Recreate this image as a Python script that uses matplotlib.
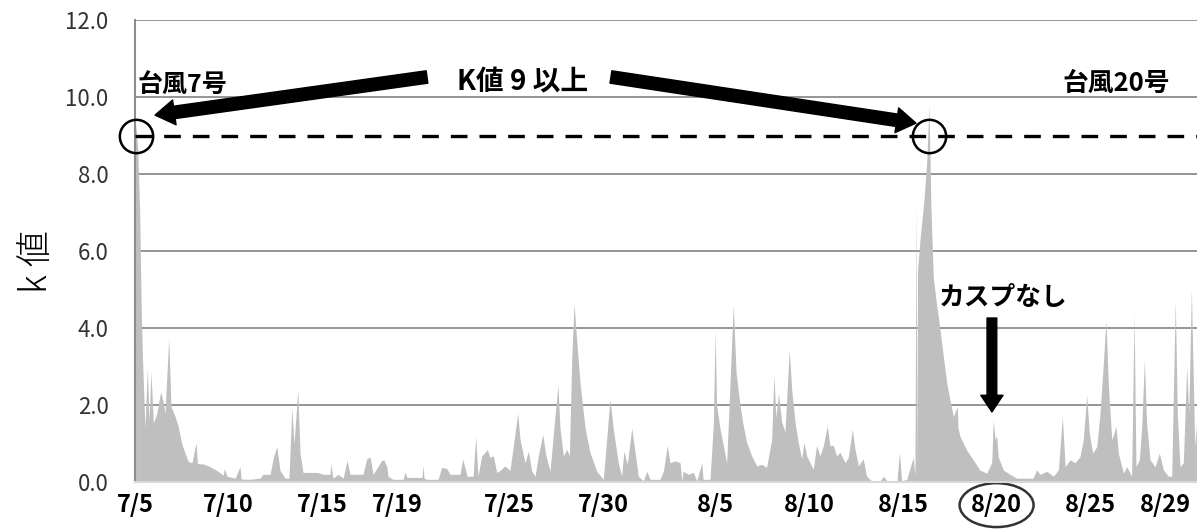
import matplotlib
matplotlib.use("Agg")
import matplotlib.pyplot as plt
from matplotlib.patches import Ellipse
from matplotlib.ticker import FormatStrFormatter

plt.rcParams["font.family"] = ["Noto Sans CJK JP", "DejaVu Sans"]

# k-index samples, (days since 7/5 00:00, k value)
july = [
    (0.00, 8.8), (0.05, 9.3), (0.15, 8.6), (0.25, 7.0), (0.33, 4.5), (0.40, 3.2),
    (0.53, 1.4), (0.66, 2.96), (0.75, 1.6), (0.85, 2.87), (0.98, 1.53), (1.16, 1.79),
    (1.37, 2.35), (1.51, 2.05), (1.60, 1.79), (1.80, 3.73), (1.92, 1.96), (2.14, 1.7),
    (2.31, 1.44), (2.49, 1.0), (2.67, 0.75), (2.85, 0.53), (3.04, 0.5), (3.26, 1.02),
    (3.33, 0.48), (3.65, 0.47), (4.00, 0.4), (4.36, 0.3), (4.71, 0.18), (4.77, 0.35),
    (4.91, 0.15), (5.34, 0.1), (5.61, 0.4), (5.66, 0.08), (6.14, 0.07), (6.67, 0.1),
    (6.83, 0.2), (7.21, 0.2), (7.38, 0.62), (7.57, 0.92), (7.74, 0.3), (8.01, 0.1),
    (8.22, 0.1), (8.37, 1.92), (8.49, 1.0), (8.69, 2.39), (8.81, 0.75), (8.97, 0.25),
    (9.72, 0.25), (10.04, 0.2), (10.41, 0.2), (10.45, 0.48), (10.57, 0.1), (10.84, 0.2),
    (11.11, 0.1), (11.32, 0.56), (11.48, 0.2), (12.17, 0.2), (12.37, 0.6), (12.55, 0.65),
    (12.71, 0.2), (13.17, 0.56), (13.29, 0.57), (13.44, 0.4), (13.51, 0.15), (13.77, 0.07),
    (14.31, 0.07), (14.42, 0.25), (14.52, 0.12), (15.32, 0.12), (15.38, 0.42), (15.43, 0.1),
    (15.59, 0.07), (16.18, 0.07), (16.37, 0.38), (16.64, 0.35), (16.82, 0.2), (17.35, 0.2),
    (17.50, 0.6), (17.73, 0.15), (18.05, 0.15), (18.19, 1.18), (18.31, 0.15), (18.51, 0.68),
    (18.69, 0.77), (18.81, 0.85), (18.95, 0.64), (19.13, 0.68), (19.31, 0.25), (19.49, 0.3),
    (19.75, 0.42), (20.02, 0.3), (20.20, 0.95), (20.43, 1.78), (20.56, 1.1), (20.82, 0.5),
    (21.00, 0.8), (21.18, 0.28), (21.36, 0.15), (21.53, 0.68), (21.77, 1.23), (21.94, 0.68),
    (22.16, 0.28), (22.33, 1.23), (22.58, 2.52), (22.69, 1.4), (22.87, 0.68), (23.05, 0.85),
    (23.19, 0.68), (23.32, 3.25), (23.44, 4.64), (23.58, 3.69), (23.76, 2.56), (24.03, 1.4),
    (24.29, 0.77), (24.65, 0.28), (25.00, 0.07), (25.18, 1.1), (25.36, 2.17), (25.53, 1.4),
    (25.80, 0.5), (25.98, 0.15), (26.10, 0.8), (26.28, 0.46), (26.52, 1.4), (26.70, 0.77),
    (26.87, 0.15), (27.14, 0.03), (27.32, 0.28), (27.50, 0.07),
]
august = [
    (28.03, 0.07), (28.21, 0.28), (28.42, 0.95), (28.56, 0.5), (28.83, 0.55), (29.10, 0.5),
    (29.19, 0.03), (29.27, 0.28), (29.54, 0.2), (29.81, 0.25), (29.99, 0.03), (30.26, 0.5),
    (30.33, 0.07), (30.70, 0.07), (30.88, 1.55), (30.97, 3.95), (31.05, 2.0), (31.23, 1.4),
    (31.41, 0.95), (31.59, 0.5), (31.77, 2.6), (31.94, 4.6), (32.09, 2.85), (32.26, 2.16),
    (32.44, 1.55), (32.66, 1.03), (32.92, 0.68), (33.19, 0.42), (33.46, 0.46), (33.72, 0.38),
    (33.99, 1.1), (34.11, 2.78), (34.22, 1.68), (34.35, 2.29), (34.53, 1.55), (34.70, 1.3),
    (34.93, 3.43), (35.06, 2.4), (35.24, 1.55), (35.41, 1.03), (35.59, 0.6), (35.72, 1.03),
    (35.86, 0.68), (36.04, 0.5), (36.21, 0.33), (36.39, 0.95), (36.57, 0.68), (36.75, 0.95),
    (36.96, 1.46), (37.10, 0.95), (37.28, 0.95), (37.46, 0.68), (37.64, 0.77), (37.91, 0.5),
    (38.08, 0.64), (38.30, 1.37), (38.44, 0.85), (38.62, 0.42), (38.88, 0.6), (39.06, 0.15),
    (39.33, 0.03), (39.78, 0.03), (39.95, 0.15), (40.15, 0.03), (40.68, 0.03), (40.81, 0.77),
    (40.93, 0.03), (41.20, 0.07), (41.55, 0.64), (41.64, 0.15), (41.70, 7.28), (41.74, 0.3),
    (41.78, 5.5), (41.91, 6.3), (42.12, 7.3), (42.28, 8.4), (42.39, 9.8), (42.49, 7.2),
    (42.62, 5.3), (42.80, 4.6), (42.98, 3.95), (43.16, 3.25), (43.34, 2.57), (43.51, 2.13),
    (43.69, 1.7), (43.90, 1.96), (43.94, 1.4), (44.05, 1.18), (44.40, 0.83), (44.76, 0.57),
    (45.11, 0.31), (45.47, 0.23), (45.74, 0.5), (45.82, 1.61), (45.92, 1.1), (46.00, 1.2),
    (46.09, 0.65), (46.36, 0.31), (46.72, 0.2), (47.07, 0.1), (47.94, 0.1), (48.14, 0.32),
    (48.32, 0.2), (48.68, 0.28), (49.03, 0.15), (49.30, 0.32), (49.51, 1.7), (49.66, 0.4),
    (49.92, 0.58), (50.19, 0.5), (50.45, 0.66), (50.63, 1.1), (50.81, 2.26), (50.95, 1.27),
    (51.13, 0.75), (51.35, 0.92), (51.52, 1.78), (51.70, 3.08), (51.84, 4.2), (51.97, 2.5),
    (52.15, 1.1), (52.38, 1.44), (52.50, 0.75), (52.77, 0.23), (52.95, 0.4), (53.21, 0.15),
    (53.34, 4.38), (53.44, 0.4), (53.62, 0.58), (53.75, 1.44), (53.89, 3.17), (54.01, 1.53),
    (54.19, 0.58), (54.46, 0.4), (54.69, 0.75), (54.90, 0.32), (55.17, 0.15), (55.35, 0.15),
    (55.54, 4.73), (55.65, 1.78), (55.79, 0.4), (55.97, 0.5), (56.15, 3.0), (56.26, 1.78),
    (56.40, 5.0), (56.58, 0.9), (56.75, 2.0),
]

tick_days = [0, 5, 10, 14, 20, 25, 31, 36, 41, 46, 51, 55]
tick_labels = ["7/5", "7/10", "7/15", "7/19", "7/25", "7/30",
               "8/5", "8/10", "8/15", "8/20", "8/25", "8/29"]
threshold = 9
peak_days = [0.05, 42.39]  # k >= 9 events

day, kval = zip(*(july + august))

fig = plt.figure(figsize=(11.97, 5.29), dpi=100)
ax = fig.add_axes([0.1128, 0.0888, 0.8872, 0.8734])

ax.fill_between(day, kval, 0, color="#bfbfbf", lw=0, zorder=2)

ax.set_xlim(0, 56.7)
ax.set_ylim(0, 12)
ax.set_yticks(range(0, 13, 2))
ax.yaxis.set_major_formatter(FormatStrFormatter("%.1f"))
ax.set_xticks(tick_days)
ax.set_xticklabels(tick_labels, fontsize=17, fontweight="bold")
ax.tick_params(axis="y", length=0, pad=19, labelsize=16, labelcolor="#333333")
ax.tick_params(axis="x", length=0, pad=8)

ax.yaxis.grid(True, color="#8c8c8c", lw=1.3)
ax.set_axisbelow(True)
for s in ["top", "right"]:
    ax.spines[s].set_visible(False)
ax.spines["left"].set_color("#8c8c8c")
ax.spines["left"].set_linewidth(1.5)
ax.spines["bottom"].set_color("#d9d9d9")
ax.spines["bottom"].set_linewidth(1.5)

# threshold line and circled events
ax.axhline(threshold, color="black", lw=2.4, dashes=(5, 3.6), zorder=3)
ax.plot(peak_days, [threshold] * len(peak_days), "o", ms=24, mfc="none",
        mec="black", mew=1.8, clip_on=False, zorder=4)

arrow = dict(facecolor="black", edgecolor="black", width=9, headwidth=18,
             headlength=14, shrink=0)
ax.annotate("", xy=(1.07, 9.53), xytext=(15.59, 10.52), arrowprops=arrow)
ax.annotate("", xy=(41.70, 9.32), xytext=(25.41, 10.52), arrowprops=arrow)
ax.annotate("", xy=(45.75, 1.82), xytext=(45.75, 4.26),
            arrowprops=dict(facecolor="black", edgecolor="black", width=7,
                            headwidth=16, headlength=12, shrink=0))

ax.text(0.16, 10.31, "台風7号", fontsize=18, fontweight="bold", va="center")
ax.text(49.5, 10.36, "台風20号", fontsize=18.5, fontweight="bold", va="center")
ax.text(20.7, 10.39, "K値 9 以上", fontsize=20, fontweight="bold",
        ha="center", va="center")
ax.text(46.34, 4.8, "カスプなし", fontsize=18.5, fontweight="bold",
        ha="center", va="center")

ax.add_patch(Ellipse((46, -0.05), width=3.95, height=0.095,
                     transform=ax.get_xaxis_transform(), fill=False,
                     ec="#333333", lw=1.8, clip_on=False))

fig.text(0.031, 0.505, "k 値", rotation=90, fontsize=26, fontweight="light",
         ha="center", va="center")

fig.savefig("out.png", dpi=100)
